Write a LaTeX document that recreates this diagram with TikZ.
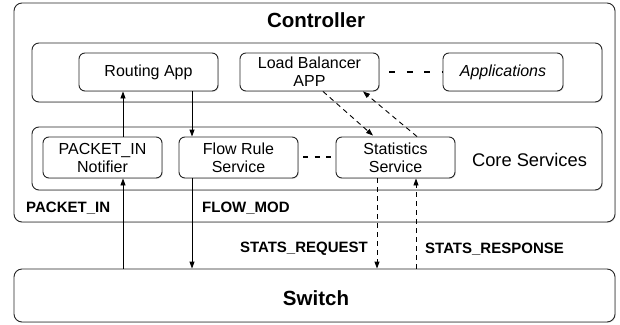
\documentclass[tikz,border=0pt]{standalone}
\usepackage{fontspec}
\setmainfont{Liberation Sans}
\usetikzlibrary{arrows.meta,shadows}
\tikzset{
 box/.style={draw=black!85, fill=white, line width=0.9pt, rounded corners=6pt, inner sep=0pt, align=center,
   font=\fontsize{16}{18}\selectfont,
   drop shadow={shadow xshift=0.8pt, shadow yshift=-0.8pt, opacity=0.25}},
 layer/.style={draw=black!85, fill=white, line width=0.9pt, rounded corners=7pt, inner sep=0pt,
   drop shadow={shadow xshift=0.8pt, shadow yshift=-0.8pt, opacity=0.25}},
 lbl/.style={font=\fontsize{15}{17}\bfseries\selectfont, inner sep=0pt},
 ttl/.style={font=\fontsize{20.5}{22}\bfseries\selectfont, inner sep=0pt},
 arr/.style={line width=0.9pt, -{Triangle[length=7pt,width=5pt]}},
 darr/.style={arr, dash pattern=on 5pt off 4pt},
 dotsline/.style={line width=2.5pt, dash pattern=on 6pt off 11.5pt},
 smalldots/.style={line width=2.5pt, dash pattern=on 5pt off 6.5pt},
}
\begin{document}
\begin{tikzpicture}[x=1pt,y=-1pt]
\useasboundingbox (0,0) rectangle (620,324);
% controller
\node[layer, rounded corners=8pt, minimum width=601pt, minimum height=219pt] (ctrl) at (314.5,112.5) {};
\node[ttl] (ctitle) at (316,20) {Controller};
% app layer
\node[layer, minimum width=570pt, minimum height=59pt] (apps) at (317,72.5) {};
\node[box, minimum width=139pt, minimum height=38pt] (route) at (148.5,72) {Routing App};
\node[box, minimum width=139pt, minimum height=38pt] (lb) at (309.5,72) {Load Balancer\\APP};
\node[box, minimum width=120pt, minimum height=38pt] (appl) at (503,72) {\itshape Applications};
\draw[dotsline] (lb.east) ++(10,0) coordinate (d1a) -- (appl.west) ++(-13,0) coordinate (d1b);
% core layer
\node[layer, minimum width=570pt, minimum height=63pt] (core) at (317,158.5) {};
\node[box, minimum width=119pt, minimum height=41pt] (notif) at (102.5,157.5) {PACKET\_IN\\Notifier};
\node[box, minimum width=119pt, minimum height=41pt] (flow) at (238.5,157.5) {Flow Rule\\Service};
\node[box, minimum width=119pt, minimum height=41pt] (stats) at (395.5,157.5) {Statistics\\Service};
\node[inner sep=0pt, font=\fontsize{18.3}{20}\selectfont] (coretxt) at (529.5,160) {Core Services};
\coordinate (d2a) at (303,157); \coordinate (d2b) at (331,157);
\draw[smalldots] (d2a) -- (d2b);
% labels
\node[lbl, anchor=west] (pin) at (26,208) {PACKET\_IN};
\node[lbl, anchor=west] (fmod) at (202,208) {FLOW\_MOD};
% switch
\node[layer, rounded corners=8pt, minimum width=601pt, minimum height=53pt] (switch) at (314.5,295.5) {};
\node[ttl] (stitle) at (316,298) {Switch};
\node[lbl, anchor=east] (sreq) at (368,249) {STATS\_REQUEST};
\node[lbl, anchor=west] (sresp) at (425,249) {STATS\_RESPONSE};
% connectors
\coordinate (xp) at (123,0);
\coordinate (xf) at (192,0);
\coordinate (xq) at (377,0);
\coordinate (xr) at (416,0);
\coordinate (xlo) at (323,0);
\coordinate (xsi) at (373,0);
\coordinate (xso) at (417,0);
\coordinate (xli) at (363,0);
\draw[arr] (switch.north -| xp) -- (notif.south -| xp);
\draw[arr] (notif.north -| xp) -- (route.south -| xp);
\draw[arr] (route.south -| xf) -- (flow.north -| xf);
\draw[arr] (flow.south -| xf) -- (switch.north -| xf);
\draw[darr] (stats.south -| xq) -- (switch.north -| xq);
\draw[darr] (switch.north -| xr) -- (stats.south -| xr);
\draw[darr] (lb.south -| xlo) -- ([yshift=1pt]stats.north -| xsi);
\draw[darr] (stats.north -| xso) -- (lb.south -| xli);
\end{tikzpicture}
\end{document}
